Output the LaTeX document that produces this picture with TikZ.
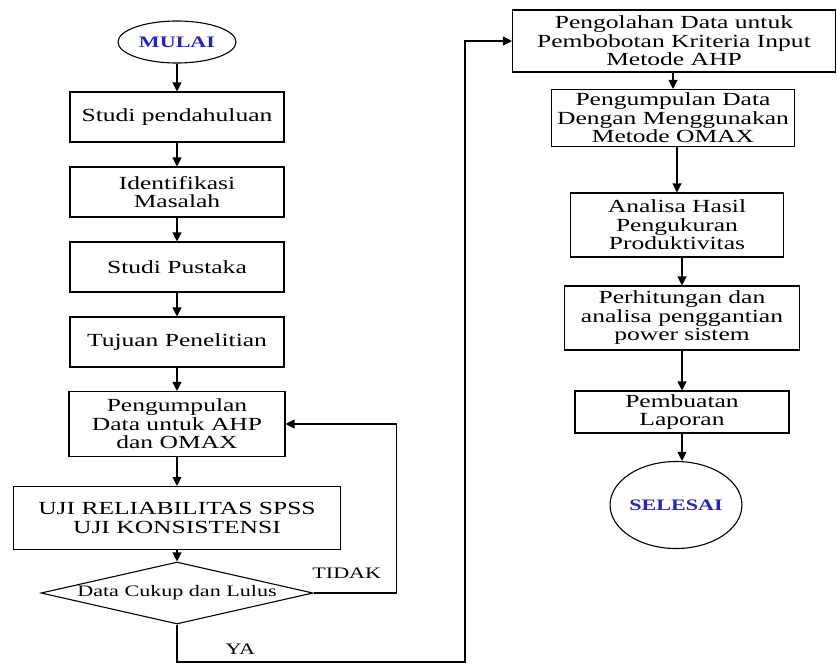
\documentclass[tikz,border=0pt]{standalone}
\usepackage{fontspec}
\setmainfont{Liberation Serif}[FakeStretch=1.38]
\usepackage{tikz}
\usetikzlibrary{shapes.geometric, arrows.meta, positioning}

\definecolor{biru}{RGB}{35,35,200}

\tikzset{
    kotak/.style={draw, rectangle, align=center, inner sep=2pt, minimum width=214pt, minimum height=50pt, font=\fontsize{18.5}{18.5}\selectfont},
    ujung/.style={draw, ellipse, inner sep=0pt, fill=white, text=biru, font=\fontsize{16}{16}\selectfont\bfseries},
    keputusan/.style={draw, diamond, aspect=4.4, inner sep=0pt, minimum width=272pt, minimum height=62pt, font=\fontsize{16}{16}\selectfont},
    ket/.style={font=\fontsize{16}{16}\selectfont}
}

\begin{document}
\begin{tikzpicture}[x=1pt, y=-1pt, >={Triangle[length=9pt, width=9pt]}, line width=1.1pt, node distance=75pt]
    \useasboundingbox (0,0) rectangle (837,664);

    % Left column
    \node[ujung, minimum width=118pt, minimum height=42pt] (mulai) at (177,42) {MULAI};
    \node[kotak] (studi) [below of=mulai] {Studi pendahuluan};
    \node[kotak] (identifikasi) [below of=studi] {Identifikasi\\Masalah};
    \node[kotak] (pustaka) [below of=identifikasi] {Studi Pustaka};
    \node[kotak] (tujuan) [below of=pustaka] {Tujuan Penelitian};
    \node[kotak, minimum width=216pt, minimum height=65pt] (kumpul) [below of=tujuan, node distance=82pt] {Pengumpulan\\Data untuk AHP\\dan OMAX};
    \node[kotak, minimum width=327pt, minimum height=63pt] (uji) [below of=kumpul, node distance=94pt] {UJI RELIABILITAS SPSS\\UJI KONSISTENSI};
    \node[keputusan] (cek) [below of=uji] {Data Cukup dan Lulus};

    % Right column
    \node[kotak, minimum width=323pt, minimum height=62pt] (olah) at (674,41) {Pengolahan Data untuk\\Pembobotan Kriteria Input\\Metode AHP};
    \node[kotak, minimum width=243pt, minimum height=57pt] (dengan) [below of=olah, node distance=77pt, xshift=-1pt] {Pengumpulan Data\\Dengan Menggunakan\\Metode OMAX};
    \node[kotak, minimum width=213pt, minimum height=64pt] (analisa) [below of=dengan, node distance=107pt, xshift=4pt] {Analisa Hasil\\Pengukuran\\Produktivitas};
    \node[kotak, minimum width=235pt, minimum height=64pt] (hitung) [below of=analisa, node distance=93pt, xshift=5pt] {Perhitungan dan\\analisa penggantian\\power sistem};
    \node[kotak, minimum width=214pt, minimum height=42pt] (laporan) [below of=hitung, node distance=94pt] {Pembuatan\\Laporan};
    \node[ujung, minimum width=128pt, minimum height=87pt] (selesai) [below of=laporan, node distance=93pt, xshift=-6pt] {SELESAI};

    \coordinate (ya) at (465,662);

    \path[->]
    % Main flow
    (mulai) edge (studi)
    (studi) edge (identifikasi)
    (identifikasi) edge (pustaka)
    (pustaka) edge (tujuan)
    (tujuan) edge (kumpul)
    (kumpul) edge (uji)
    (uji) edge (cek)

    % Second column
    (olah.south -| dengan.north) edge (dengan.north)
    (dengan.south -| analisa.north) edge (analisa.north)
    (analisa.south -| hitung.north) edge (hitung.north)
    (hitung) edge (laporan)
    (laporan.south) edge (laporan.south |- selesai.north);

    % Decision branches
    \draw[->] (cek.east) -- node[ket, pos=0.4, above=11pt] {TIDAK} ++(83,0) |- (kumpul.east);
    \draw[->] (cek.south) |- node[ket, pos=0.61, above=4pt] {YA} (ya) |- (olah.west);
\end{tikzpicture}
\end{document}
